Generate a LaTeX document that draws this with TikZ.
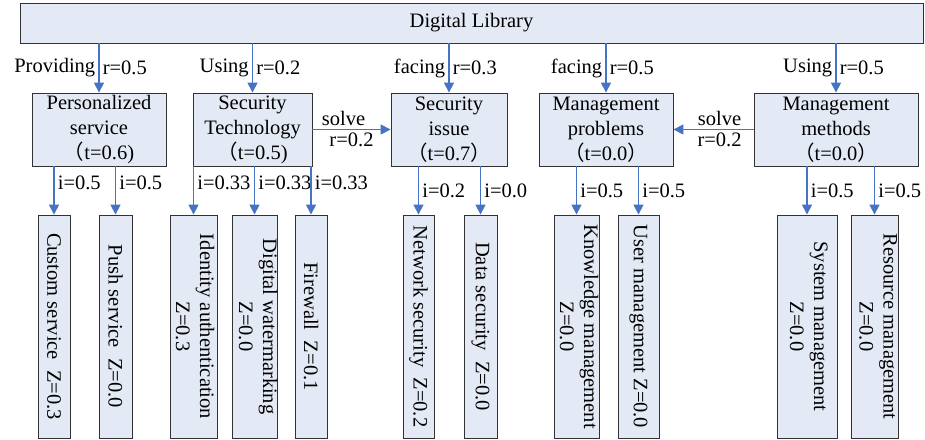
\documentclass[tikz,border=0pt]{standalone}
\usepackage{fontspec}
\setmainfont{Liberation Serif}
\newfontfamily\cjk{Noto Sans CJK SC}
\usepackage{tikz}
\usetikzlibrary{arrows.meta}
\usepackage{xcolor}
\definecolor{libfill}{RGB}{228, 234, 245}
\definecolor{libblue}{RGB}{70, 115, 195}
\definecolor{libedge}{RGB}{50, 50, 50}
\newcommand{\fwl}{{\cjk （}}
\newcommand{\fwr}{{\cjk ）}}

\begin{document}
\begin{tikzpicture}[x=1pt, y=-1pt, font=\fontsize{20.5}{25}\selectfont,
    box/.style={rectangle, draw=libedge, line width=0.9pt, fill=libfill, inner sep=1pt, align=center},
    leaf/.style={box, rotate=-90, minimum width=223pt},
    leaftext/.style={rotate=-90, anchor=base, inner sep=0pt, fill=libfill},
    link/.style={libblue, line width=1.6pt, -{Triangle[length=10pt, width=10pt]}},
    tag/.style={inner sep=3pt, text=black}]
    \useasboundingbox (0,0) rectangle (925,439);

    % Digital library
    \node[box, minimum width=903pt, minimum height=40pt] (lib) at (471.5,23) {Digital Library};

    % Second level
    \node[box, minimum width=134pt, minimum height=73pt] (pers) at (99,129.5) {Personalized\\service\\\fwl t=0.6)};
    \node[box, minimum width=119pt, minimum height=73pt] (sectech) at (252.5,129.5) {Security\\Technology\\\fwl t=0.5)};
    \node[box, minimum width=116pt, minimum height=73pt] (secissue) at (449,129.5) {Security\\issue\\\fwl t=0.7\fwr};
    \node[box, minimum width=134pt, minimum height=73pt] (mgmtprob) at (606,129.5) {Management\\problems\\\fwl t=0.0\fwr};
    \node[box, minimum width=164pt, minimum height=73pt] (mgmtmeth) at (836,129.5) {Management\\methods\\\fwl t=0.0\fwr};

    \foreach \child/\how/\r in {pers/Providing/0.5, sectech/Using/0.2, secissue/facing/0.3, mgmtprob/facing/0.5, mgmtmeth/Using/0.5} {
        \draw[link] (\child.north |- lib.south) -- (\child.north) node[midway, left, tag] {\how} node[midway, right, tag] {r=\r};
    }

    % Solve relations
    \draw[link] (sectech.east) -- (secissue.west) node[midway, above, xshift=-8pt, tag] {solve} node[midway, below, tag] {r=0.2};
    \draw[link] (mgmtmeth.west) -- (mgmtprob.east) node[midway, above, xshift=6pt, tag] {solve} node[midway, below, xshift=6pt, tag] {r=0.2};

    % Leaves (text runs top to bottom)
    \node[leaf, minimum height=32pt] (custom) at (54,326.5) {Custom service~~Z=0.3};
    \node[leaf, minimum height=33pt] (push) at (115.5,326.5) {Push service~~Z=0.0};
    \node[leaf, minimum height=47pt] (ident) at (193.5,326.5) {};
    \node[leaf, minimum height=45pt] (water) at (254.5,326.5) {};
    \node[leaf, minimum height=32pt] (firewall) at (311,326.5) {Firewall~~Z=0.1};
    \node[leaf, minimum height=31pt] (netsec) at (418.5,326.5) {Network security~~Z=0.2};
    \node[leaf, minimum height=33pt] (datasec) at (480.5,326.5) {Data security~~Z=0.0};
    \node[leaf, minimum height=45pt] (know) at (576.5,326.5) {};
    \node[leaf, minimum height=41pt] (user) at (638.5,326.5) {User management Z=0.0};
    \node[leaf, minimum height=60pt] (system) at (807,326.5) {};
    \node[leaf, minimum height=47pt] (resource) at (874.5,326.5) {};

    % two-line leaves: first lines
    \foreach \name/\first/\s in {ident/Identity authentication/6.5, water/Digital watermarking/8.5,
        know/Knowledge management/7.5, system/System management/7, resource/Resource management/9} {
        \node[leaftext] at ([xshift=\s pt]\name.center) {\first};
    }

    \foreach \name/\parent/\val/\p in {custom/pers/0.5/0.35, push/pers/0.5/0.35, ident/sectech/0.33/0.35, water/sectech/0.33/0.35,
        firewall/sectech/0.33/0.35, netsec/secissue/0.2/0.5, datasec/secissue/0.0/0.5, know/mgmtprob/0.5/0.5,
        user/mgmtprob/0.5/0.5, system/mgmtmeth/0.5/0.5, resource/mgmtmeth/0.5/0.5} {
        \draw[link] (\name.center |- \parent.south) -- (\name.west) node[pos=\p, right, tag] {i=\val};
    }

    % two-line leaves: second lines
    \foreach \name/\second/\s in {ident/Z=0.3/6.5, water/Z=0.0/8.5, know/Z=0.0/7.5, system/Z=0.0/7, resource/Z=0.0/9} {
        \node[leaftext] at ([xshift=\s pt-24pt]\name.center) {\second};
    }
\end{tikzpicture}
\end{document}
